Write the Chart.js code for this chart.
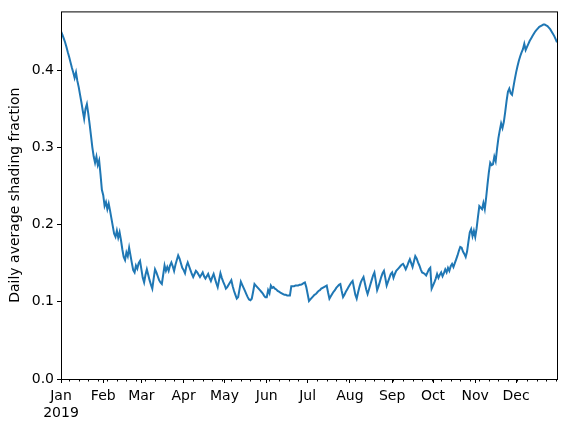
<!DOCTYPE html>
<html>
<head>
<meta charset="utf-8">
<script src="https://cdn.jsdelivr.net/npm/chart.js@4"></script>
<style>
  body { margin: 0; background: #fff; }
  canvas { display: block; }
</style>
</head>
<body>
<canvas id="chart" width="567" height="429"></canvas>
<script>
// daily average shading fraction, 2019, one array per month
const jan = [0.450, 0.446, 0.441, 0.436, 0.430, 0.423, 0.417, 0.410, 0.403, 0.397, 0.390, 0.397, 0.386, 0.378, 0.368, 0.358,
  0.347, 0.337, 0.350, 0.356, 0.344, 0.330, 0.315, 0.300, 0.288, 0.280, 0.288, 0.277, 0.283, 0.265, 0.245];
const feb = [0.238, 0.224, 0.229, 0.220, 0.227, 0.218, 0.208, 0.198, 0.188, 0.184, 0.192, 0.183, 0.190, 0.180, 0.168, 0.158,
  0.154, 0.164, 0.159, 0.170, 0.160, 0.150, 0.141, 0.138, 0.147, 0.143, 0.150, 0.153];
const mar = [0.142, 0.131, 0.125, 0.135, 0.142, 0.135, 0.128, 0.122, 0.117, 0.130, 0.142, 0.138, 0.133, 0.128, 0.125, 0.123,
  0.135, 0.147, 0.140, 0.145, 0.140, 0.147, 0.151, 0.146, 0.140, 0.148, 0.154, 0.160, 0.156, 0.150, 0.144];
const apr = [0.141, 0.137, 0.146, 0.151, 0.146, 0.141, 0.136, 0.132, 0.136, 0.140, 0.138, 0.135, 0.132, 0.135, 0.138, 0.133,
  0.130, 0.133, 0.136, 0.131, 0.127, 0.132, 0.136, 0.130, 0.124, 0.119, 0.128, 0.137, 0.131, 0.126];
const may = [0.122, 0.117, 0.119, 0.122, 0.125, 0.128, 0.120, 0.114, 0.109, 0.104, 0.106, 0.116, 0.126, 0.122, 0.118, 0.114,
  0.110, 0.106, 0.103, 0.102, 0.104, 0.113, 0.123, 0.121, 0.119, 0.117, 0.115, 0.113, 0.111, 0.108, 0.106];
const jun = [0.106, 0.115, 0.111, 0.121, 0.118, 0.119, 0.117, 0.116, 0.114, 0.113, 0.112, 0.111, 0.110, 0.109, 0.109, 0.108,
  0.108, 0.108, 0.120, 0.120, 0.120, 0.121, 0.121, 0.121, 0.122, 0.122, 0.123, 0.124, 0.125, 0.119];
const jul = [0.110, 0.101, 0.103, 0.105, 0.107, 0.109, 0.110, 0.112, 0.114, 0.115, 0.117, 0.118, 0.119, 0.120, 0.121, 0.112,
  0.104, 0.107, 0.110, 0.113, 0.115, 0.118, 0.120, 0.122, 0.123, 0.114, 0.106, 0.109, 0.113, 0.116, 0.119];
const aug = [0.122, 0.125, 0.127, 0.118, 0.109, 0.104, 0.112, 0.119, 0.125, 0.129, 0.132, 0.124, 0.116, 0.110, 0.116, 0.122,
  0.128, 0.134, 0.138, 0.127, 0.115, 0.120, 0.126, 0.132, 0.137, 0.140, 0.131, 0.121, 0.126, 0.131, 0.136];
const sep = [0.138, 0.131, 0.136, 0.140, 0.142, 0.144, 0.146, 0.148, 0.149, 0.146, 0.142, 0.146, 0.151, 0.155, 0.150, 0.145,
  0.152, 0.159, 0.156, 0.151, 0.147, 0.142, 0.138, 0.137, 0.136, 0.134, 0.138, 0.142, 0.144, 0.117];
const oct = [0.121, 0.125, 0.130, 0.136, 0.131, 0.135, 0.138, 0.133, 0.137, 0.142, 0.138, 0.144, 0.140, 0.146, 0.149, 0.145,
  0.150, 0.155, 0.160, 0.166, 0.171, 0.170, 0.165, 0.162, 0.158, 0.165, 0.178, 0.190, 0.194, 0.185, 0.192];
const nov = [0.184, 0.195, 0.210, 0.224, 0.222, 0.220, 0.228, 0.220, 0.235, 0.252, 0.268, 0.280, 0.277, 0.278, 0.288, 0.282,
  0.298, 0.312, 0.322, 0.331, 0.325, 0.333, 0.346, 0.360, 0.372, 0.376, 0.370, 0.368, 0.378, 0.388];
const dec = [0.397, 0.405, 0.412, 0.418, 0.423, 0.427, 0.434, 0.426, 0.430, 0.434, 0.438, 0.441, 0.444, 0.447, 0.450, 0.452,
  0.454, 0.456, 0.457, 0.458, 0.459, 0.459, 0.458, 0.457, 0.455, 0.453, 0.450, 0.447, 0.444, 0.440, 0.436];

const monthNames = ['Jan', 'Feb', 'Mar', 'Apr', 'May', 'Jun', 'Jul', 'Aug', 'Sep', 'Oct', 'Nov', 'Dec'];
const monthStarts = [0, 31, 59, 90, 120, 151, 181, 212, 243, 273, 304, 334]; // day index of the 1st
const yTicks = [0.0, 0.1, 0.2, 0.3, 0.4];

const shading = [].concat(jan, feb, mar, apr, may, jun, jul, aug, sep, oct, nov, dec);
const points = shading.map((v, i) => ({ x: i, y: v }));

// weekly minor ticks on Mondays (2019-01-07 is day 6)
const minorTicks = [];
for (let d = 6; d < 365; d += 7) {
  if (!monthStarts.includes(d)) minorTicks.push(d);
}

const FONT = 'DejaVu Sans';

const frame = {
  id: 'frame',
  afterDraw(chart) {
    const { ctx, chartArea: a } = chart;
    const xs = chart.scales.x;
    ctx.save();
    ctx.strokeStyle = '#000';
    ctx.lineWidth = 1;
    ctx.strokeRect(a.left + 0.5, a.top + 0.5, a.right - a.left, a.bottom - a.top);
    ctx.beginPath();
    minorTicks.forEach(d => {
      const px = Math.round(xs.getPixelForValue(d)) + 0.5;
      ctx.moveTo(px, a.bottom);
      ctx.lineTo(px, a.bottom + 2.5);
    });
    ctx.stroke();
    ctx.restore();
  }
};

new Chart(document.getElementById('chart'), {
  type: 'line',
  data: {
    datasets: [{
      data: points,
      borderColor: '#1f77b4',
      borderWidth: 2,
      pointRadius: 0,
      tension: 0,
      fill: false
    }]
  },
  options: {
    responsive: false,
    animation: false,
    layout: { padding: { top: 9, right: 10, left: 0, bottom: 0 } },
    plugins: { legend: { display: false }, tooltip: { enabled: false } },
    scales: {
      x: {
        type: 'linear',
        min: 0,
        max: 364,
        afterBuildTicks: s => { s.ticks = monthStarts.map(v => ({ value: v })); },
        afterFit: s => { s.height = 50; },
        grid: { drawOnChartArea: false, tickLength: 4, color: '#000' },
        border: { display: false },
        ticks: {
          autoSkip: false,
          maxRotation: 0,
          padding: 5,
          color: '#000',
          font: { family: FONT, size: 14 },
          callback: v => {
            const i = monthStarts.indexOf(v);
            if (i < 0) return '';
            return i === 0 ? [monthNames[0], '2019'] : monthNames[i];
          }
        }
      },
      y: {
        min: 0,
        max: 0.476,
        afterBuildTicks: s => { s.ticks = yTicks.map(v => ({ value: v })); },
        afterFit: s => { s.width = 61; },
        grid: { drawOnChartArea: false, tickLength: 4, color: '#000' },
        border: { display: false },
        ticks: {
          padding: 3,
          color: '#000',
          font: { family: FONT, size: 14 },
          callback: v => v.toFixed(1)
        },
        title: {
          display: true,
          text: 'Daily average shading fraction',
          color: '#000',
          font: { family: FONT, size: 14 },
          padding: { top: 7, bottom: 0 }
        }
      }
    }
  },
  plugins: [frame]
});
</script>
</body>
</html>
